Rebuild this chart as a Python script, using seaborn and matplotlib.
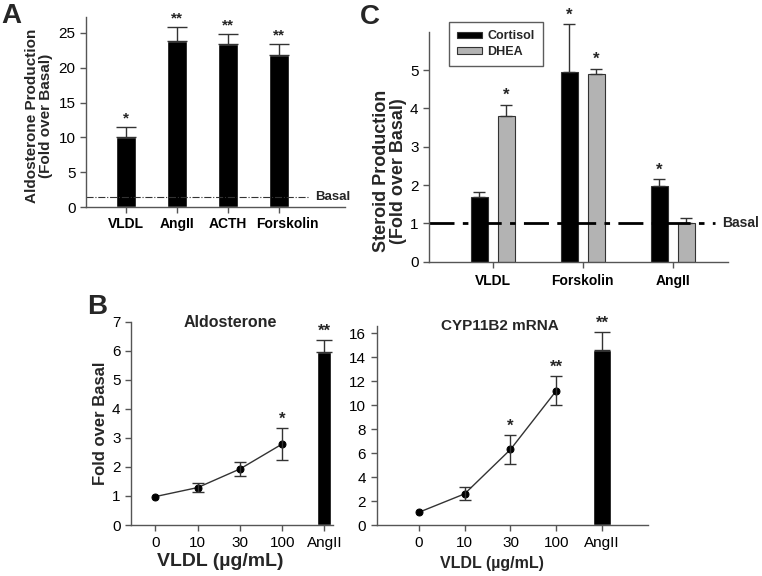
import numpy as np
import pandas as pd
import matplotlib
matplotlib.use("Agg")
import matplotlib.pyplot as plt
import matplotlib.transforms as mtransforms
import seaborn as sns

# ── Panel A: aldosterone production ───────────────────────────────────────────
A_CONDS = ["VLDL", "AngII", "ACTH", "Forskolin"]
A_VALUES = [10.0, 23.9, 23.4, 21.8]
A_ERR = [1.5, 2.0, 1.5, 1.6]
A_STARS = ["*", "**", "**", "**"]
A_BASAL = 1.5

# ── Panel B: VLDL dose response + AngII ───────────────────────────────────────
B_CONDS = ["0", "10", "30", "100", "AngII"]
B_ALDO = [0.98, 1.29, 1.93, 2.79]
B_ALDO_ERR = [0.0, 0.14, 0.23, 0.55]
B_ALDO_ANG = 5.94
B_ALDO_ANG_ERR = 0.42
B_ALDO_STARS = ["", "", "", "*", "**"]
B_MRNA = [1.06, 2.6, 6.3, 11.2]
B_MRNA_ERR = [0.0, 0.55, 1.2, 1.2]
B_MRNA_ANG = 14.6
B_MRNA_ANG_ERR = 1.5
B_MRNA_STARS = ["", "", "*", "**", "**"]

# ── Panel C: steroid production ───────────────────────────────────────────────
C_CONDS = ["VLDL", "Forskolin", "AngII"]
C_STEROIDS = ["Cortisol", "DHEA"]
C_CORTISOL = [1.7, 4.95, 1.98]
C_CORTISOL_ERR = [0.11, 1.25, 0.18]
C_DHEA = [3.8, 4.9, 1.0]
C_DHEA_ERR = [0.3, 0.14, 0.13]
C_CORTISOL_STARS = ["", "*", "*"]
C_DHEA_STARS = ["*", "*", ""]

DHEA_GRAY = "#b3b3b3"
SPINE = "#555555"
ERR = "#333333"

sns.set_style("ticks")
plt.rcParams["font.family"] = ["Liberation Sans", "DejaVu Sans"]
plt.rcParams.update({
    "axes.edgecolor": SPINE,
    "axes.linewidth": 1.0,
    "xtick.color": SPINE,
    "ytick.color": SPINE,
    "xtick.labelcolor": "black",
    "ytick.labelcolor": "black",
    "xtick.major.size": 4,
    "ytick.major.size": 4,
    "font.size": 10,
})


def style_axis(ax):
    sns.despine(ax=ax)
    ax.tick_params(axis="both", labelsize=11, width=1)


def star(ax, x, y, s, size=11):
    if s:
        ax.annotate(s, (x, y), xytext=(0, 1), textcoords="offset points",
                    ha="center", va="bottom", fontsize=size, fontweight="bold",
                    annotation_clip=False)


fig = plt.figure(figsize=(7.62, 5.76), dpi=100)

# ── Panel A ───────────────────────────────────────────────────────────────────
axA = fig.add_axes([0.1129, 0.6406, 0.340, 0.330])
dfA = pd.DataFrame({"cond": A_CONDS, "value": A_VALUES})
sns.barplot(data=dfA, x="cond", y="value", order=A_CONDS, color="black",
            width=0.4, saturation=1, ax=axA)
xa = np.arange(len(A_CONDS))
axA.errorbar(xa, A_VALUES, yerr=[np.zeros(len(A_ERR)), A_ERR], fmt="none",
             ecolor=ERR, elinewidth=1, capsize=7, capthick=1)
for x, v, e, s in zip(xa, A_VALUES, A_ERR, A_STARS):
    star(axA, x, v + e, s)
axA.axhline(A_BASAL, xmin=0, xmax=0.855, color="#333333", lw=0.8, ls="-.")
axA.text(0.885, A_BASAL, "Basal", transform=axA.get_yaxis_transform(),
         ha="left", va="center", fontsize=9.5, fontweight="bold")
axA.set_xlim(-0.78, 4.3)
axA.set_ylim(0, 27.3)
axA.set_yticks([0, 5, 10, 15, 20, 25])
axA.set_xlabel("")
axA.set_ylabel("Aldosterone Production\n(Fold over Basal)", fontsize=11,
               fontweight="bold", linespacing=1.0)
axA.yaxis.set_label_coords(-0.127, 0.48)
style_axis(axA)
axA.tick_params(axis="x", pad=3, labelsize=10)
xlabA = axA.get_xticklabels()
for t in xlabA:
    t.set_fontweight("bold")
# the last label sits a little right of its bar in the original
xlabA[-1].set_transform(xlabA[-1].get_transform() +
                        mtransforms.ScaledTranslation(6 / 72, 0, fig.dpi_scale_trans))

# ── Panel C ───────────────────────────────────────────────────────────────────
axC = fig.add_axes([0.563, 0.5457, 0.392, 0.399])
dfC = pd.DataFrame({
    "cond": C_CONDS * 2,
    "steroid": [C_STEROIDS[0]] * 3 + [C_STEROIDS[1]] * 3,
    "value": C_CORTISOL + C_DHEA,
})
sns.barplot(data=dfC, x="cond", y="value", hue="steroid", order=C_CONDS,
            hue_order=C_STEROIDS, palette=["black", DHEA_GRAY], width=0.6,
            gap=0.37, saturation=1, edgecolor="#333333", linewidth=0.8, ax=axC)
for cont, vals, errs, stars in zip(axC.containers,
                                   [C_CORTISOL, C_DHEA],
                                   [C_CORTISOL_ERR, C_DHEA_ERR],
                                   [C_CORTISOL_STARS, C_DHEA_STARS]):
    xs = [p.get_x() + p.get_width() / 2 for p in cont.patches]
    eb = axC.errorbar(xs, vals, yerr=[np.zeros(len(errs)), errs], fmt="none",
                      ecolor=ERR, elinewidth=1, capsize=4, capthick=1)
    for art in eb.lines[1] + eb.lines[2]:
        art.set_clip_on(False)
    for x, v, e, s in zip(xs, vals, errs, stars):
        star(axC, x, v + e, s, size=12)
axC.axhline(1, xmin=0, xmax=0.957, color="black", lw=2, ls=(0, (9, 3, 2, 3)))
axC.text(0.98, 1, "Basal", transform=axC.get_yaxis_transform(),
         ha="left", va="center", fontsize=10, fontweight="bold")
axC.set_xlim(-0.71, 2.61)
axC.set_ylim(0, 6)
axC.set_yticks([0, 1, 2, 3, 4, 5])
axC.set_xlabel("")
axC.set_ylabel("Steroid Production\n(Fold over Basal)", fontsize=13,
               fontweight="bold", linespacing=1.0)
axC.yaxis.set_label_coords(-0.074, 0.394)
style_axis(axC)
axC.tick_params(axis="x", pad=5, labelsize=10)
for t in axC.get_xticklabels():
    t.set_fontweight("bold")
leg = axC.legend(loc="upper left", bbox_to_anchor=(0.067, 1.042),
                 borderaxespad=0, frameon=True, fancybox=False,
                 edgecolor="#333333", handlelength=2.0, handleheight=0.4,
                 borderpad=0.65, labelspacing=0.3, handletextpad=0.4,
                 prop={"weight": "bold", "size": 9})
leg.get_frame().set_linewidth(1)

# ── Panel B ───────────────────────────────────────────────────────────────────
def dose_panel(ax, vals, errs, ang, ang_err, stars, bar_w):
    dfb = pd.DataFrame({"cond": ["AngII"], "value": [ang]})
    sns.barplot(data=dfb, x="cond", y="value", order=B_CONDS, color="black",
                width=bar_w, saturation=1, ax=ax)
    xs = np.arange(len(vals))
    sns.lineplot(x=xs, y=vals, color="#333333", lw=1, marker="o",
                 markersize=5, markeredgecolor="black",
                 markerfacecolor="black", ax=ax)
    ax.errorbar(xs[1:], vals[1:], yerr=errs[1:], fmt="none", ecolor=ERR,
                elinewidth=1, capsize=4, capthick=1)
    ax.errorbar([4], [ang], yerr=[[0], [ang_err]], fmt="none", ecolor=ERR,
                elinewidth=1, capsize=6, capthick=1)
    tops = [v + e for v, e in zip(vals, errs)] + [ang + ang_err]
    for x, t, s in zip(range(5), tops, stars):
        star(ax, x, t, s, size=12)
    style_axis(ax)
    ax.tick_params(axis="x", pad=4)
    ax.set_ylabel("")


axB1 = fig.add_axes([0.1719, 0.0885, 0.265, 0.353])
dose_panel(axB1, B_ALDO, B_ALDO_ERR, B_ALDO_ANG, B_ALDO_ANG_ERR,
           B_ALDO_STARS, 0.33)
axB1.set_xlim(-0.58, 4.2)
axB1.set_ylim(0, 7)
axB1.set_yticks(range(0, 8))
axB1.set_xlabel("VLDL (µg/mL)", fontsize=14, fontweight="bold")
axB1.xaxis.set_label_coords(0.44, -0.138)
axB1.set_ylabel("Fold over Basal", fontsize=12, fontweight="bold")
axB1.yaxis.set_label_coords(-0.114, 0.5)
axB1.text(0.49, 0.994, "Aldosterone", transform=axB1.transAxes, ha="center",
          va="center", fontsize=11.5, fontweight="bold")

axB2 = fig.add_axes([0.4943, 0.0885, 0.356, 0.3455])
dose_panel(axB2, B_MRNA, B_MRNA_ERR, B_MRNA_ANG, B_MRNA_ANG_ERR,
           B_MRNA_STARS, 0.4)
axB2.set_xlim(-0.92, 5.0)
axB2.set_ylim(0, 16.6)
axB2.set_yticks(range(0, 17, 2))
axB2.set_xlabel("VLDL (µg/mL)", fontsize=11.5, fontweight="bold")
axB2.xaxis.set_label_coords(0.425, -0.155)
axB2.text(0.454, 1.0, "CYP11B2 mRNA", transform=axB2.transAxes, ha="center",
          va="center", fontsize=11, fontweight="bold")

# ── Panel letters ─────────────────────────────────────────────────────────────
fig.text(0.002, 0.995, "A", ha="left", va="top", fontsize=20, fontweight="bold")
fig.text(0.472, 0.993, "C", ha="left", va="top", fontsize=20, fontweight="bold")
fig.text(0.114, 0.490, "B", ha="left", va="top", fontsize=20, fontweight="bold")

fig.savefig("out.png", dpi=100, facecolor="white")
